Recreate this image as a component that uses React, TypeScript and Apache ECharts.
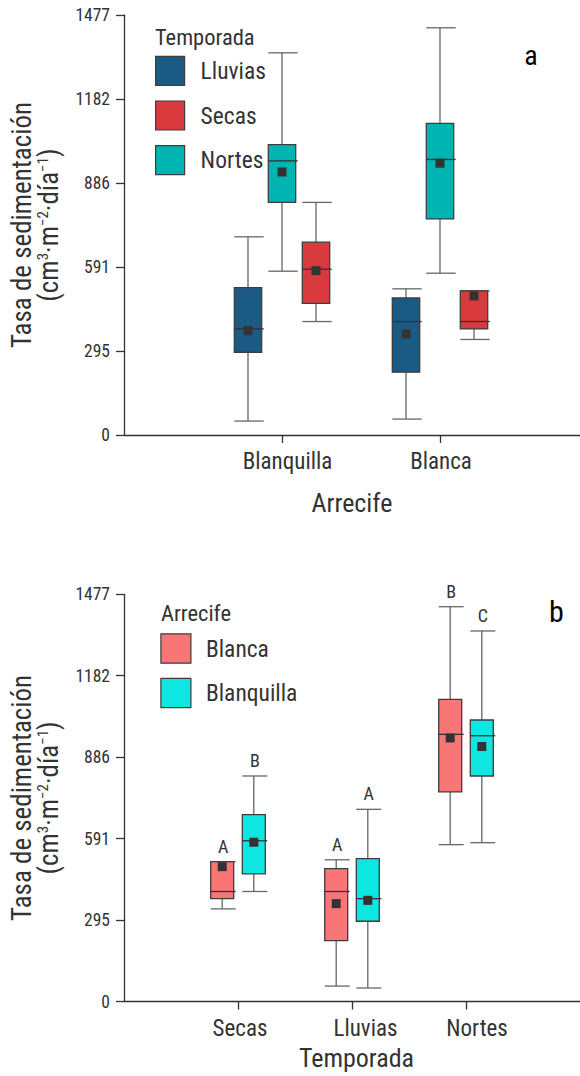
import React, { useEffect, useRef } from 'react';
import * as echarts from 'echarts';

const FONT = '"Liberation Sans Narrow", "Roboto Condensed", Roboto, sans-serif';
const TEXT = '#333333';

// ---------- data ----------
// y axis
const yMax = 1477;
const yStep = 295.4; // ticks: 0, 295, 591, 886, 1182, 1477

// Panel a: x = reef, groups = season
const reefCategories = ['', 'Blanquilla', 'Blanca', ''];
const seasonLegend = ['Lluvias', 'Secas', 'Nortes'];
// each box: [categoryIndex, min, Q1, median, Q3, max, mean]
const lluviasA = [
  [1, 49, 291, 373, 518, 697, 367],
  [2, 56, 221, 399, 482, 514, 355],
];
const secasA = [
  [1, 399, 463, 583, 678, 818, 578],
  [2, 336, 373, 399, 507, 507, 489],
];
const nortesA = [
  [1, 576, 818, 964, 1021, 1344, 925],
  [2, 569, 760, 969, 1096, 1432, 956],
];

// Panel b: x = season, groups = reef
const seasonCategories = ['', 'Secas', 'Lluvias', 'Nortes', ''];
const reefLegend = ['Blanca', 'Blanquilla'];
const blancaB = [
  [1, 336, 373, 399, 507, 507, 489],
  [2, 56, 221, 399, 482, 514, 355],
  [3, 569, 760, 969, 1096, 1432, 956],
];
const blanquillaB = [
  [1, 399, 463, 583, 678, 818, 578],
  [2, 49, 291, 373, 518, 697, 367],
  [3, 576, 818, 964, 1021, 1344, 925],
];
const lettersBlanca = ['A', 'A', 'B'];
const lettersBlanquilla = ['B', 'A', 'C'];

// ---------- styles ----------
const COLORS: Record<string, string> = {
  Lluvias: '#1b5a85',
  Secas: '#d83a3e',
  Nortes: '#00b5b1',
  Blanca: '#f87676',
  Blanquilla: '#0de6e1',
};

function makeRender(color: string, offsetPx: number, boxW: number, letters?: string[]) {
  return (params: any, api: any) => {
    const ci = api.value(0);
    const x = api.coord([ci, 0])[0] + offsetPx;
    const Y = (v: number) => api.coord([ci, v])[1];
    const yMin = Y(api.value(1));
    const yQ1 = Y(api.value(2));
    const yMed = Y(api.value(3));
    const yQ3 = Y(api.value(4));
    const yMx = Y(api.value(5));
    const yMean = Y(api.value(6));
    const h = boxW / 2;
    const whisk = { stroke: '#666666', lineWidth: 1.3 };
    const children: any[] = [
      { type: 'line', shape: { x1: x, y1: yQ1, x2: x, y2: yMin }, style: whisk },
      { type: 'line', shape: { x1: x, y1: yQ3, x2: x, y2: yMx }, style: whisk },
      { type: 'line', shape: { x1: x - h, y1: yMin, x2: x + h + 2, y2: yMin }, style: whisk },
      { type: 'line', shape: { x1: x - h, y1: yMx, x2: x + h + 2, y2: yMx }, style: whisk },
      {
        type: 'rect',
        shape: { x: x - h, y: yQ3, width: boxW, height: yQ1 - yQ3 },
        style: { fill: color, stroke: '#3d3d3d', lineWidth: 1.3 },
      },
      { type: 'line', shape: { x1: x - h, y1: yMed, x2: x + h + 2, y2: yMed }, style: { stroke: '#333', lineWidth: 1.3 } },
      { type: 'rect', shape: { x: x - 4.5, y: yMean - 4.5, width: 9, height: 9 }, style: { fill: '#333' } },
    ];
    if (letters) {
      children.push({
        type: 'text',
        x: x + 1,
        y: yMx - 15.5,
        style: {
          text: letters[params.dataIndex],
          fill: TEXT,
          fontSize: 18,
          fontFamily: FONT,
          align: 'center',
          verticalAlign: 'middle',
          textAlign: 'center',
          textVerticalAlign: 'middle',
        },
      });
    }
    return { type: 'group', children };
  };
}

const axisLineStyle = { color: '#333', width: 1.3 };

const yAxisName = 'Tasa de sedimentación\n(cm{s|3}·m{s|\u22122}·día{s|\u22121})';

function yAxis(gridIndex: number) {
  return {
    gridIndex,
    type: 'value',
    min: 0,
    max: yMax,
    interval: yStep,
    splitLine: { show: false },
    axisLine: { show: true, lineStyle: axisLineStyle },
    axisTick: { show: true, length: 8, lineStyle: axisLineStyle },
    axisLabel: {
      fontSize: 17.5,
      color: TEXT,
      margin: 14,
      fontFamily: FONT,
      formatter: (v: number) => String(Math.round(v)),
    },
    name: yAxisName,
    nameLocation: 'middle',
    nameRotate: 90,
    nameGap: 62,
    nameTextStyle: {
      fontSize: 27,
      lineHeight: 27,
      color: TEXT,
      fontFamily: FONT,
      rich: {
        s: { fontSize: 15, lineHeight: 15, verticalAlign: 'top', color: TEXT, fontFamily: FONT },
      },
    },
  };
}

function xAxis(gridIndex: number, cats: string[], name: string, nameGap: number, namePad: number[], shifts: Record<string, number>) {
  const rich: Record<string, any> = {};
  Object.keys(shifts).forEach((k) => {
    rich[k] = { fontSize: 23, color: TEXT, fontFamily: FONT, padding: [0, 0, 0, shifts[k]] };
  });
  return {
    gridIndex,
    type: 'category',
    data: cats,
    boundaryGap: false,
    axisLine: { show: true, lineStyle: axisLineStyle },
    axisTick: {
      show: true,
      length: 8,
      interval: (i: number) => i > 0 && i < cats.length - 1,
      lineStyle: axisLineStyle,
    },
    axisLabel: {
      interval: 0,
      margin: 15,
      fontSize: 23,
      color: TEXT,
      fontFamily: FONT,
      formatter: (v: string) => (v ? `{${v}|${v}}` : ''),
      rich,
    },
    splitLine: { show: false },
    name,
    nameLocation: 'middle',
    nameGap,
    nameTextStyle: { fontSize: 26, color: TEXT, fontFamily: FONT, padding: namePad },
  };
}

function legendItem(name: string) {
  return { name, itemStyle: { color: COLORS[name], borderColor: '#3d3d3d', borderWidth: 1.2 } };
}

export default function App() {
  const ref = useRef<HTMLDivElement>(null);
  useEffect(() => {
    if (!ref.current) return;
    const chart = echarts.init(ref.current, null, { renderer: 'svg' });
    const option: any = {
      animation: false,
      textStyle: { fontFamily: FONT },
      grid: [
        { left: 124, top: 15, width: 474, height: 420, outerBoundsMode: 'none' },
        { left: 124, top: 594.3, width: 456, height: 407.2, outerBoundsMode: 'none' },
      ],
      xAxis: [
        xAxis(0, reefCategories, 'Arrecife', 54.5, [0, 18, 0, 0], { Blanquilla: 11, Blanca: 2 }),
        xAxis(1, seasonCategories, 'Temporada', 43, [0, 0, 0, 9], { Secas: 4, Lluvias: 27, Nortes: 22 }),
      ],
      yAxis: [yAxis(0), yAxis(1)],
      legend: [
        {
          data: seasonLegend.map(legendItem),
          left: 155,
          top: 55.7,
          orient: 'vertical',
          icon: 'rect',
          itemWidth: 29,
          itemHeight: 29,
          itemGap: 14.5,
          padding: 0,
          selectedMode: false,
          textStyle: { fontSize: 23.5, color: TEXT, fontFamily: FONT, padding: [0, 0, 0, 11] },
        },
        {
          data: reefLegend.map(legendItem),
          left: 160.3,
          top: 633.3,
          orient: 'vertical',
          icon: 'rect',
          itemWidth: 30,
          itemHeight: 29.3,
          itemGap: 14,
          padding: 0,
          selectedMode: false,
          textStyle: { fontSize: 23.5, color: TEXT, fontFamily: FONT, padding: [0, 0, 0, 10] },
        },
      ],
      graphic: [
        { type: 'text', x: 155, y: 36.8, style: { text: 'Temporada', fill: TEXT, fontSize: 22.5, fontFamily: FONT, textVerticalAlign: 'middle', verticalAlign: 'middle' } },
        { type: 'text', x: 161, y: 613.3, style: { text: 'Arrecife', fill: TEXT, fontSize: 22.5, fontFamily: FONT, textVerticalAlign: 'middle', verticalAlign: 'middle' } },
        { type: 'text', x: 531, y: 55, style: { text: 'a', fill: '#000', fontSize: 28, fontFamily: FONT, textAlign: 'center', align: 'center', textVerticalAlign: 'middle', verticalAlign: 'middle' } },
        { type: 'text', x: 556.3, y: 611, style: { text: 'b', fill: '#000', fontSize: 30, fontFamily: FONT, textAlign: 'center', align: 'center', textVerticalAlign: 'middle', verticalAlign: 'middle' } },
      ],
      series: [
        { type: 'custom', name: 'Lluvias', xAxisIndex: 0, yAxisIndex: 0, data: lluviasA, encode: { x: 0, y: [1, 2, 3, 4, 5, 6] }, itemStyle: { color: COLORS.Lluvias }, renderItem: makeRender(COLORS.Lluvias, -34, 27.4) },
        { type: 'custom', name: 'Nortes', xAxisIndex: 0, yAxisIndex: 0, data: nortesA, encode: { x: 0, y: [1, 2, 3, 4, 5, 6] }, itemStyle: { color: COLORS.Nortes }, renderItem: makeRender(COLORS.Nortes, 0, 27.4) },
        { type: 'custom', name: 'Secas', xAxisIndex: 0, yAxisIndex: 0, data: secasA, encode: { x: 0, y: [1, 2, 3, 4, 5, 6] }, itemStyle: { color: COLORS.Secas }, renderItem: makeRender(COLORS.Secas, 34, 27.4) },
        { type: 'custom', name: 'Blanca', xAxisIndex: 1, yAxisIndex: 1, data: blancaB, encode: { x: 0, y: [1, 2, 3, 4, 5, 6] }, itemStyle: { color: COLORS.Blanca }, renderItem: makeRender(COLORS.Blanca, -15.8, 23, lettersBlanca) },
        { type: 'custom', name: 'Blanquilla', xAxisIndex: 1, yAxisIndex: 1, data: blanquillaB, encode: { x: 0, y: [1, 2, 3, 4, 5, 6] }, itemStyle: { color: COLORS.Blanquilla }, renderItem: makeRender(COLORS.Blanquilla, 15.8, 23, lettersBlanquilla) },
      ],
    };
    chart.setOption(option);
    return () => chart.dispose();
  }, []);
  return <div ref={ref} style={{ position: 'absolute', left: 0, top: 0, width: 580, height: 1076 }} />;
}
